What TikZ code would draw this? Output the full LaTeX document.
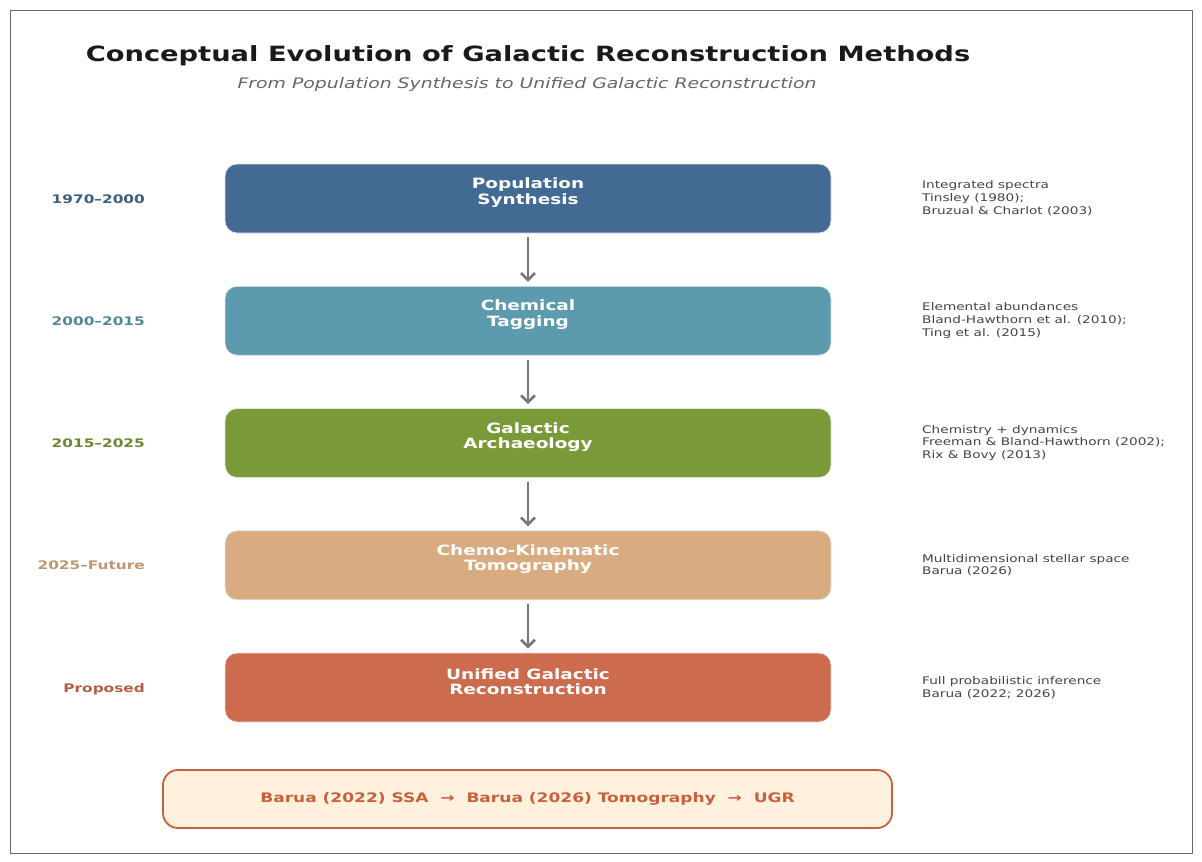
\documentclass[tikz,border=0pt]{standalone}
\usepackage{fontspec}
\setmainfont{DejaVu Sans}[FakeStretch=1.3]
\usetikzlibrary{arrows.meta}
\definecolor{popblue}{HTML}{436A93}
\definecolor{chemteal}{HTML}{5C9BAE}
\definecolor{archgreen}{HTML}{7A9A3A}
\definecolor{tomotan}{HTML}{D8AB80}
\definecolor{ugrred}{HTML}{CC6B4D}
\definecolor{pathfill}{HTML}{FFF1DE}
\definecolor{pathline}{HTML}{C8603C}
\definecolor{titleink}{HTML}{1A1A1A}
\definecolor{subink}{HTML}{666666}
\definecolor{refink}{HTML}{444444}
\definecolor{flowgray}{HTML}{777777}
\begin{document}
\begin{tikzpicture}[x=1pt, y=-1pt,
  stage/.style={rounded corners=12pt, draw=white!80!gray, line width=0.8pt,
                minimum width=606pt, minimum height=69pt, inner sep=0pt},
  stagetxt/.style={font=\fontsize{14.2}{15.6}\selectfont\bfseries,
                   text=white, align=center, inner sep=0pt},
  era/.style={font=\fontsize{11.8}{14}\selectfont\bfseries, anchor=base east,
              inner sep=0pt},
  refs/.style={font=\fontsize{10.5}{12.8}\selectfont, text=refink,
               anchor=west, align=left, inner sep=0pt},
  flow/.style={-{Straight Barb[length=7pt, width=14pt]}, line width=2.6pt,
               draw=flowgray, shorten >=4pt, shorten <=4pt}
]
\useasboundingbox (0,0) rectangle (1202,862);
\draw[gray!80!black, line width=0.8pt] (10,10) rectangle (1192,853);
% title
\node[font=\fontsize{21}{25}\selectfont\bfseries, text=titleink, anchor=base]
  (title) at (528, 61.5) {Conceptual Evolution of Galactic Reconstruction Methods};
\node[font=\fontsize{14.5}{17}\selectfont\itshape, text=subink, anchor=base]
  (subtitle) at (527, 88) {From Population Synthesis to Unified Galactic Reconstruction};
% stages
\foreach \i/\nm/\col/\when/\what/\cite in {
  0/pop/popblue/1970--2000/{Population\\Synthesis}/{Integrated spectra\\Tinsley (1980);\\Bruzual \& Charlot (2003)},
  1/chem/chemteal/2000--2015/{Chemical\\Tagging}/{Elemental abundances\\Bland-Hawthorn et al. (2010);\\Ting et al. (2015)},
  2/arch/archgreen/2015--2025/{Galactic\\Archaeology}/{Chemistry + dynamics\\Freeman \& Bland-Hawthorn (2002);\\Rix \& Bovy (2013)},
  3/tomo/tomotan/2025--Future/{Chemo-Kinematic\\Tomography}/{Multidimensional stellar space\\Barua (2026)},
  4/ugr/ugrred/Proposed/{Unified Galactic\\Reconstruction}/{Full probabilistic inference\\Barua (2022; 2026)}}
{
  \node[stage, fill=\col] (\nm) at (528, 198.5+122.25*\i) {};
  \node[stagetxt] (\nm-txt) at ([yshift=6pt]\nm.center) {\what};
  \node[era, text=\col!88!black] (\nm-era) at (145, 203+122.25*\i) {\when};
  \node[refs] (\nm-ref) at (922, 198.5+122.25*\i) {\cite};
}
\foreach \a/\b in {pop/chem, chem/arch, arch/tomo, tomo/ugr}
  \draw[flow] (\a.south) -- (\b.north);
% summary path
\node[draw=pathline, line width=1.8pt, fill=pathfill, rounded corners=15pt,
      minimum width=729pt, minimum height=58pt, inner sep=0pt,
      font=\fontsize{13.1}{15}\selectfont\bfseries, text=pathline]
  (path) at (527.5, 799) {Barua (2022) SSA~~→~~Barua (2026) Tomography~~→~~UGR};
\end{tikzpicture}
\end{document}
